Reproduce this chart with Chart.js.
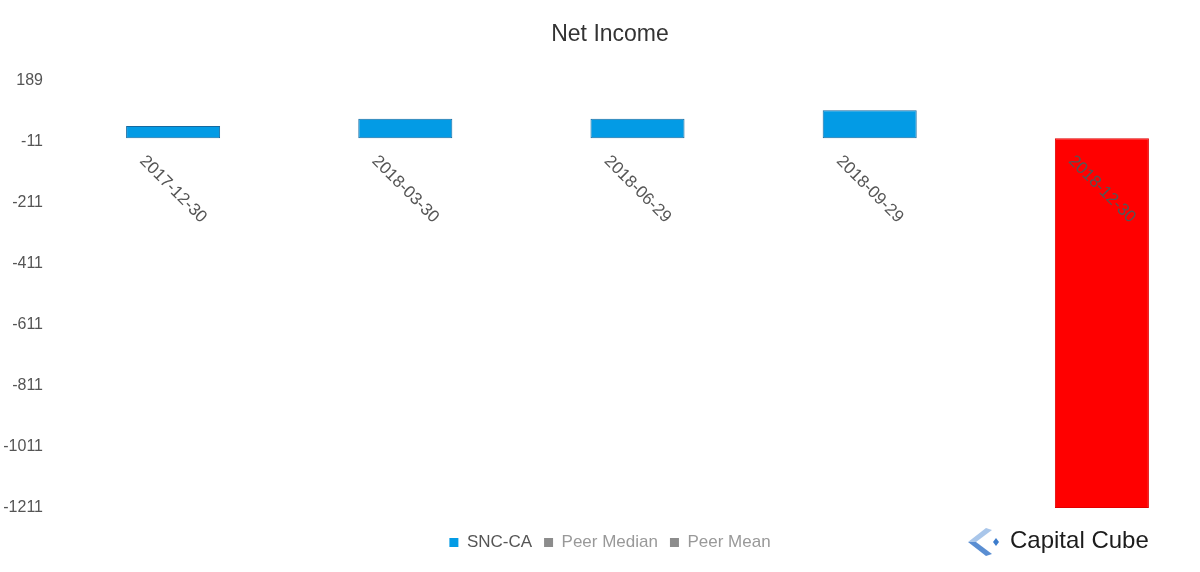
<!DOCTYPE html>
<html>
<head>
<meta charset="utf-8">
<script src="https://cdn.jsdelivr.net/npm/chart.js@4.4.1/dist/chart.umd.min.js"></script>
<style>
    html, body { margin: 0; padding: 0; background: #fff; overflow: hidden; }
    #wrap { position: relative; width: 1200px; height: 572px; overflow: hidden; }
    #box { position: absolute; left: 0; top: 0; width: 1222px; height: 572px; }
    #logo { position: absolute; left: 964px; top: 524px; }
    #logo span { position: absolute; left: 46px; top: 2px; font: 24px "Liberation Sans", Arial, sans-serif; color: #1c1c1c; white-space: nowrap; }
</style>
</head>
<body>
<div id="wrap">
    <div id="box"><canvas id="chart" width="1222" height="572"></canvas></div>
    <div id="logo">
        <svg width="40" height="36" viewBox="0 0 40 36">
            <polygon points="22,4 4,18 12,18 28,6" fill="#a9c6ea"/>
            <polygon points="4,18 22,32 28,30 12,18" fill="#5a8ed2"/>
            <polygon points="32,14 35,18 32,22 29,18" fill="#3c7ccc"/>
        </svg>
        <span>Capital Cube</span>
    </div>
</div>
<script>
const TITLE = 'Net Income';
const DATES = ['2017-12-30', '2018-03-30', '2018-06-29', '2018-09-29', '2018-12-30'];
const SNC = [40, 64, 64, 92, -1211];
const PEER_MEDIAN = [null, null, null, null, null];
const PEER_MEAN = [null, null, null, null, null];
const Y_MIN = -1211;
const Y_MAX = 189;
const Y_STEP = 200;

const BLUE = '#039be5';
const BLUE_EDGE = '#16699f';
const RED = '#ff0000';
const RED_EDGE = '#e00000';
const GREY = '#8c8c8c';

// date labels drawn slanted just under the zero line
const dateLabels = {
    id: 'dateLabels',
    afterDatasetsDraw(chart) {
        const ctx = chart.ctx;
        const x = chart.scales.x;
        const y = chart.scales.y;
        const y0 = y.getPixelForValue(0);
        ctx.save();
        ctx.font = '17px "Liberation Sans", Arial, sans-serif';
        ctx.fillStyle = '#555';
        ctx.textAlign = 'center';
        ctx.textBaseline = 'middle';
        DATES.forEach((d, i) => {
            ctx.save();
            ctx.translate(x.getPixelForValue(i), y0 + 51);
            ctx.rotate(Math.PI / 4);
            ctx.fillText(d, 0, 0);
            ctx.restore();
        });
        ctx.restore();
    }
};

new Chart(document.getElementById('chart'), {
    type: 'bar',
    data: {
        labels: DATES,
        datasets: [
            {
                label: 'SNC-CA',
                data: SNC,
                backgroundColor: SNC.map(v => v < 0 ? RED : BLUE),
                borderColor: SNC.map(v => v < 0 ? RED_EDGE : BLUE_EDGE),
                borderWidth: 1,
                borderSkipped: false,
            },
            {
                label: 'Peer Median',
                data: PEER_MEDIAN,
                backgroundColor: GREY,
            },
            {
                label: 'Peer Mean',
                data: PEER_MEAN,
                backgroundColor: GREY,
            }
        ]
    },
    options: {
        responsive: false,
        animation: false,
        grouped: false,
        barPercentage: 0.405,
        categoryPercentage: 1,
        layout: { padding: { left: 2, right: 4, top: 0, bottom: 11 } },
        plugins: {
            title: {
                display: true,
                text: TITLE,
                color: '#333',
                font: { family: '"Liberation Sans", Arial, sans-serif', size: 23, weight: 'normal' },
                padding: { top: 21, bottom: 32 }
            },
            legend: {
                position: 'bottom',
                labels: {
                    boxWidth: 9,
                    boxHeight: 9,
                    padding: 12,
                    font: { family: '"Liberation Sans", Arial, sans-serif', size: 17 },
                    generateLabels(chart) {
                        const items = Chart.defaults.plugins.legend.labels.generateLabels(chart);
                        return items.map((it, i) => {
                            it.fillStyle = i === 0 ? BLUE : GREY;
                            it.strokeStyle = 'rgba(0,0,0,0)';
                            it.lineWidth = 0;
                            it.fontColor = i === 0 ? '#555' : '#999';
                            return it;
                        });
                    }
                }
            },
            tooltip: { enabled: false }
        },
        scales: {
            x: {
                display: true,
                grid: { display: false, drawTicks: false },
                border: { display: false },
                ticks: { display: false },
                afterFit(scale) { scale.height = 14; }
            },
            y: {
                min: Y_MIN,
                max: Y_MAX,
                grid: { display: false, drawTicks: false },
                border: { display: false },
                ticks: {
                    stepSize: Y_STEP,
                    padding: 14,
                    color: '#555',
                    font: { family: '"Liberation Sans", Arial, sans-serif', size: 16 },
                    callback: v => String(v)
                },
                afterFit(scale) { scale.width = 55; }
            }
        }
    },
    plugins: [dateLabels]
});
</script>
</body>
</html>
